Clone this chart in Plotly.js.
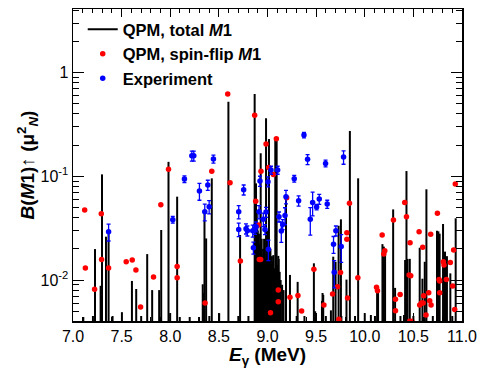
<!DOCTYPE html>
<html>
<head>
<meta charset="utf-8">
<script src="https://cdn.plot.ly/plotly-3.0.1.min.js"></script>
<style>html,body{margin:0;padding:0;background:#fff;}#chart{width:480px;height:368px;}</style>
</head>
<body>
<div id="chart"></div>
<script>
// QPM total M1 strengths (bars): energy (MeV) and B(M1)up (muN^2)
const qpmE = [7.106,7.205,7.226,7.284,7.298,7.339,7.366,7.407,7.503,7.606,7.650,7.701,7.763,7.814,7.886,7.907,
  7.982,7.999,8.071,8.098,8.200,8.296,8.334,8.345,8.352,8.369,8.402,8.427,8.503,8.598,8.700,8.718,8.804,
  8.868,8.875,8.882,8.885,8.890,8.895,8.900,8.905,8.912,8.920,8.930,8.940,8.945,8.955,8.965,8.975,8.985,8.995,
  9.005,9.015,9.020,9.030,9.045,9.050,9.060,9.070,9.080,9.094,9.100,9.111,9.115,9.125,9.135,9.150,9.165,
  9.190,9.231,9.300,9.310,9.380,9.477,9.490,9.560,9.566,9.573,9.600,9.652,9.676,9.700,9.731,9.755,9.760,9.812,9.847,
  9.900,9.932,10.000,10.063,10.105,10.127,10.137,10.182,10.196,10.209,10.292,10.312,10.367,10.404,10.415,10.429,10.440,
  10.463,10.500,10.565,10.593,10.617,10.634,10.700,10.743,10.757,10.770,10.805,10.825,10.845,10.880,10.900,10.935];
const qpmB = [0.0044,0.0045,0.0199,0.0088,0.1045,0.0262,0.028,0.0045,0.0049,0.0098,0.0082,0.0045,0.0178,0.008,0.008,0.0304,
  0.138,0.0048,0.0637,0.0044,0.0044,0.0044,0.0091,0.0075,0.0473,0.0252,0.0045,0.0957,0.0048,0.525,0.0045,0.0272,0.0045,
  0.622,0.040,0.0856,0.020,0.045,0.035,0.03,0.018,0.028,0.022,0.167,0.025,0.015,0.02,0.025,0.016,0.3625,0.03,
  0.014,0.229,0.018,0.02,0.017,0.015,0.0174,0.013,0.232,0.225,0.014,0.0171,0.016,0.012,0.010,0.009,0.008,
  0.059,0.0112,0.0045,0.0096,0.0045,0.0145,0.005,0.0063,0.0075,0.0072,0.0045,0.0051,0.0168,0.015,0.0334,0.0385,0.0045,0.0101,0.274,
  0.0045,0.0957,0.0048,0.0046,0.0045,0.008,0.0075,0.0222,0.021,0.019,0.048,0.0084,0.0045,0.0046,0.0156,0.1125,0.016,
  0.016,0.0045,0.0205,0.0103,0.015,0.075,0.0045,0.0299,0.0295,0.028,0.0347,0.0188,0.017,0.0116,0.0045,0.0394];

// QPM spin-flip M1 strengths (red points)
const sfE = [7.120,7.127,7.222,7.291,7.294,7.366,7.547,7.609,7.647,7.695,7.828,7.903,7.982,8.071,8.071,8.358,8.427,
  8.591,8.615,8.721,8.868,8.879,8.906,8.916,8.930,8.933,8.985,9.012,9.031,9.060,9.091,9.111,9.111,9.197,9.231,9.313,
  9.351,9.477,9.580,9.669,9.720,9.734,9.751,9.816,9.816,9.823,9.843,9.929,10.121,10.131,10.179,10.196,10.206,10.295,
  10.316,10.316,10.364,10.411,10.429,10.456,10.466,10.473,10.462,10.487,10.559,10.565,10.583,10.596,10.600,10.606,
  10.630,10.658,10.668,10.678,10.682,10.747,10.764,10.771,10.771,10.808,10.815,10.839,10.880,10.904,10.914,10.925,10.931];
const sfB = [0.0473,0.0131,0.00813,0.0436,0.0158,0.0131,0.0150,0.0156,0.0125,0.0055,0.0107,0.0533,0.117,0.0135,0.0105,0.0060,0.112,
  0.623,0.0869,0.0153,0.388,0.0574,0.0340,0.0158,0.0158,0.112,0.205,0.122,0.00484,0.104,0.231,0.00801,0.00618,0.0623,0.00681,0.00711,
  0.00502,0.0127,0.00574,0.00733,0.00863,0.00418,0.0118,0.0286,0.0247,0.0067,0.0550,0.0105,0.0085,0.00789,0.0272,0.0178,0.0192,0.0379,
  0.00651,0.00506,0.00727,0.0561,0.0408,0.0112,0.0229,0.0110,0.0040,0.0040,0.0292,0.00574,0.0060,0.0207,0.0060,0.00706,
  0.00459,0.00755,0.00632,0.0276,0.00574,0.0440,0.0101,0.0098,0.00755,0.0150,0.0140,0.0101,0.0148,0.00875,0.0195,0.00521,0.0844];

// Experiment (blue points with errors)
const expE = [7.366,8.026,8.146,8.222,8.242,8.300,8.355,8.386,8.400,8.444,8.704,8.704,8.755,8.779,8.793,8.848,8.872,8.882,
  8.855,8.923,8.913,8.957,8.974,8.985,9.005,9.009,9.036,9.104,9.118,9.142,9.156,9.180,9.190,9.275,9.320,9.375,9.412,
  9.440,9.464,9.505,9.532,9.597,9.614,9.679,9.686,9.703,9.758,9.782];
const expB = [0.0292,0.0382,0.0942,0.158,0.158,0.0722,0.0456,0.0825,0.0509,0.147,0.0456,0.0308,0.0743,0.0313,0.0299,0.0299,0.031,0.0327,
  0.0205,0.0902,0.0456,0.0385,0.0308,0.0453,0.0889,0.0198,0.115,0.115,0.0408,0.0297,0.0344,0.042,0.0637,0.095,0.0582,0.25,0.146,
  0.0385,0.0561,0.0506,0.0604,0.1334,0.054,0.0222,0.0119,0.0299,0.0211,0.1536];
const expErr = [0.0054,0.0028,0.007,0.0175,0.0175,0.0134,0.0084,0.0092,0.0075,0.013,0.0067,0.0046,0.0082,0.0035,0.0033,0.004,0.0034,0.0036,
  0.0027,0.01,0.0067,0.0057,0.0034,0.005,0.0099,0.0044,0.0102,0.0102,0.0045,0.0066,0.0038,0.0078,0.0094,0.007,0.0065,0.015,0.016,
  0.0114,0.0145,0.003,0.0067,0.0099,0.0048,0.0041,0.0035,0.0033,0.0063,0.0227];

const xTickVals = [7.0,7.5,8.0,8.5,9.0,9.5,10.0,10.5,11.0];
const yTickVals = [0.01,0.1,1];
const yTickText = ['10<sup>-2</sup>','10<sup>-1</sup>','1'];

const BAR_BASE = 1e-3;
const bx = [], by = [];
qpmE.forEach((e,i)=>{ bx.push(e,e,null); by.push(BAR_BASE, qpmB[i], null); });

const minorY = [];
for (let d=-3; d<=0; d++) for (let k=2; k<=9; k++) minorY.push(k*Math.pow(10,d));

const FONT = 'Liberation Sans, Arial, Helvetica, sans-serif';

const traces = [
  {x:bx, y:by, type:'scatter', mode:'lines', line:{color:'#000', width:2},
   name:'<b>QPM, total <i>M</i>1</b>', connectgaps:false, hoverinfo:'skip'},
  {x:sfE, y:sfB, type:'scatter', mode:'markers', marker:{color:'#ff0000', size:5.5},
   name:'<b>QPM, spin-flip <i>M</i>1</b>'},
  {x:expE, y:expB, type:'scatter', mode:'markers', marker:{color:'#0000ff', size:5.5},
   error_y:{type:'data', array:expErr, visible:true, color:'#0000ff', thickness:1.3, width:2},
   name:'<b>Experiment</b>'}
];

const layout = {
  width:480, height:368,
  margin:{l:73, r:18, t:9, b:47},
  paper_bgcolor:'#fff', plot_bgcolor:'#fff',
  font:{family:FONT, color:'#000', size:16},
  showlegend:true,
  legend:{x:0.025, y:0.99, xanchor:'left', yanchor:'top', bgcolor:'rgba(0,0,0,0)',
          font:{family:FONT, size:16.5, color:'#000'}, itemwidth:30, tracegroupgap:0},
  xaxis:{range:[7,11], tickvals:xTickVals, ticktext:xTickVals.map(v=>v.toFixed(1)),
         ticks:'inside', ticklen:8, tickwidth:1, tickcolor:'#000',
         showline:true, linecolor:'#000', linewidth:1.5, mirror:'allticks',
         showgrid:false, zeroline:false,
         minor:{dtick:0.1, tick0:7, ticks:'inside', ticklen:4, tickcolor:'#000', tickwidth:1, showgrid:false},
         tickfont:{size:16, family:FONT},
         title:{text:'<b><i>E</i><sub>γ</sub> (MeV)</b>', font:{size:19, family:FONT}, standoff:15}},
  yaxis:{type:'log', range:[-2.395, 0.614], tickmode:'array', tickvals:yTickVals, ticktext:yTickText,
         ticks:'inside', ticklen:11, tickwidth:1, tickcolor:'#000',
         showline:true, linecolor:'#000', linewidth:1.5, mirror:'allticks',
         showgrid:false, zeroline:false,
         minor:{tickmode:'array', tickvals:minorY, ticks:'inside', ticklen:6, tickcolor:'#000', tickwidth:1, showgrid:false},
         tickfont:{size:16, family:FONT},
         title:{text:'<b><i>B</i>(<i>M</i>1)↑ (μ<sup>2</sup><sub><i>N</i></sub>)</b>', font:{size:19, family:FONT}, standoff:0}}
};

Plotly.newPlot('chart', traces, layout, {staticPlot:true, displayModeBar:false});
</script>
</body>
</html>
